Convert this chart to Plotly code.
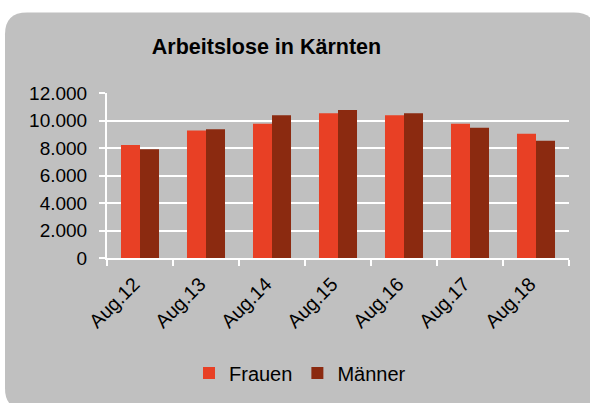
import plotly.graph_objects as go

categories = ["Aug.12", "Aug.13", "Aug.14", "Aug.15", "Aug.16", "Aug.17", "Aug.18"]
frauen = [8220, 9280, 9760, 10530, 10380, 9760, 9040]
maenner = [7910, 9370, 10380, 10770, 10530, 9470, 8530]
y_ticks = [0, 2000, 4000, 6000, 8000, 10000, 12000]

W, H = 590, 403
L, R, T, B = 107, 21, 93, 144
pw, ph = W - L - R, H - T - B

def px(x):
    return (x - L) / pw

def py(y):
    return (H - B - y) / ph

fig = go.Figure()
fig.add_trace(go.Bar(name="Frauen", x=categories, y=frauen, marker=dict(color="#E84025", line=dict(width=0))))
fig.add_trace(go.Bar(name="Männer", x=categories, y=maenner, marker=dict(color="#8B2A10", line=dict(width=0))))

# rounded grey panel
x0, y0, x1, y1, r = 5, 12, 596, 412, 22
path = (
    f"M {px(x0 + r)} {py(y0)} L {px(x1 - r)} {py(y0)} "
    f"Q {px(x1)} {py(y0)} {px(x1)} {py(y0 + r)} "
    f"L {px(x1)} {py(y1 - r)} Q {px(x1)} {py(y1)} {px(x1 - r)} {py(y1)} "
    f"L {px(x0 + r)} {py(y1)} Q {px(x0)} {py(y1)} {px(x0)} {py(y1 - r)} "
    f"L {px(x0)} {py(y0 + r)} Q {px(x0)} {py(y0)} {px(x0 + r)} {py(y0)} Z"
)

fig.update_layout(
    width=W, height=H,
    margin=dict(l=L, r=R, t=T, b=B, pad=0),
    paper_bgcolor="white",
    plot_bgcolor="rgba(0,0,0,0)",
    separators=",.",
    font=dict(family="Liberation Sans, Arial, sans-serif", size=19, color="black"),
    title=dict(text="<b>Arbeitslose in Kärnten</b>", x=266.5 / W, xanchor="center",
               y=1 - 46 / H, yanchor="middle", xref="container", yref="container",
               font=dict(size=21.5, color="black")),
    barmode="group", bargap=0.424, bargroupgap=0,
    shapes=[dict(type="path", path=path, xref="paper", yref="paper",
                 fillcolor="#C0C0C0", line=dict(width=0), layer="below")],
    legend=dict(orientation="h", x=px(300), xanchor="center", y=py(373), yanchor="middle",
                font=dict(size=20), bgcolor="rgba(0,0,0,0)", itemwidth=30,
                traceorder="normal"),
    showlegend=True,
)
fig.update_xaxes(
    type="category", tickson="boundaries", ticks="outside", ticklen=6, tickwidth=2,
    tickcolor="white", showline=True, linecolor="white", linewidth=2,
    showgrid=False, tickangle=-45, tickfont=dict(size=19.5),
    ticklabelstandoff=5, ticklabelshift=-6,
)
fig.update_yaxes(
    range=[0, 12000], tickvals=y_ticks, tickformat=",d", ticks="outside", ticklen=6,
    tickwidth=2, tickcolor="white", showline=True, linecolor="white", linewidth=2,
    showgrid=True, gridcolor="white", gridwidth=2, zeroline=False,
    ticklabelstandoff=8, tickfont=dict(size=19),
)

fig.write_html(
    "out.html",
    config={"displayModeBar": False},
    post_script="document.body.style.margin='0';document.body.style.overflow='hidden';",
)
